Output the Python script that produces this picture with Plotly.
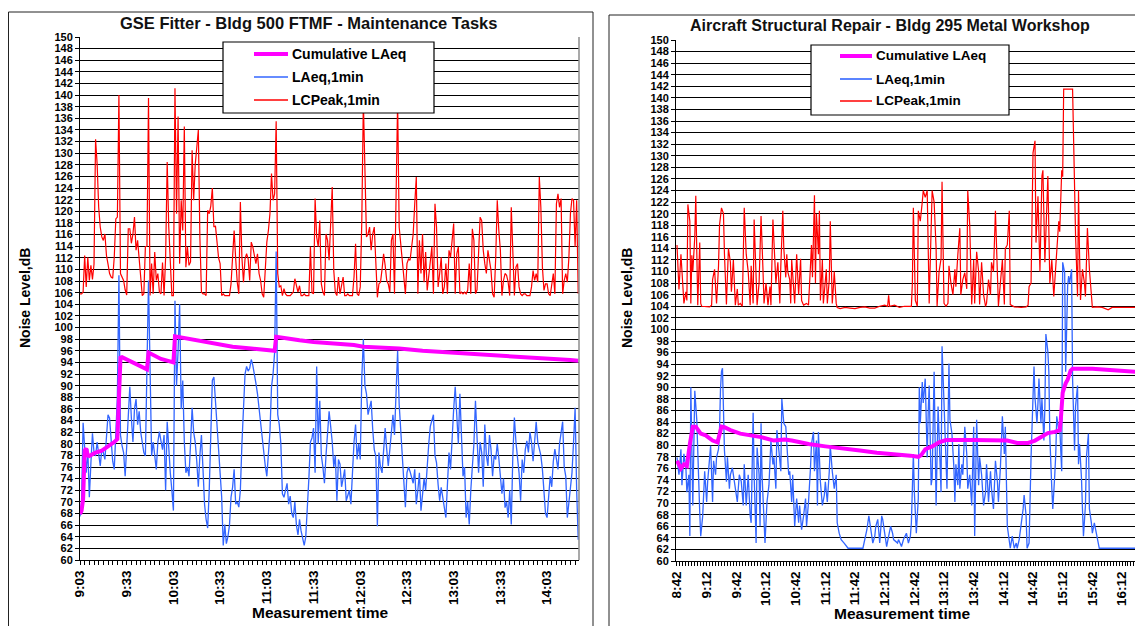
import plotly.graph_objects as go

# The page body has an 8 px margin, so the figure is drawn 8 px in from the
# top-left corner of the 1143x626 window; all pixel positions below are window pixels.
WIN_W, WIN_H = 1143, 626
OFF = 8
W, H = WIN_W - OFF, WIN_H - OFF
FONT = "Liberation Sans, Arial, sans-serif"

# ---------------- Left chart: GSE Fitter - Bldg 500 FTMF (one value per minute from 9:03) ----------------
gse_title = "GSE Fitter - Bldg 500 FTMF - Maintenance Tasks"
gse_tick_labels = ["9:03", "9:33", "10:03", "10:33", "11:03", "11:33", "12:03",
                   "12:33", "13:03", "13:33", "14:03"]
gse_lcpeak = [
    105.8, 105.8, 106.1, 112.4, 107.0, 112.1, 108.1, 110.7, 108.3, 110.9,
    132.4, 128.2, 120.7, 117.3, 115.6, 115.0, 116.1, 112.4, 110.9, 109.3,
    108.7, 108.5, 112.1, 118.7, 119.0, 140.0, 109.3, 108.5, 108.1, 106.5,
    105.6, 117.0, 117.0, 114.5, 116.1, 119.0, 113.3, 115.0, 112.0, 109.3,
    105.5, 105.8, 113.9, 114.0, 139.5, 105.5, 111.0, 105.8, 113.0, 108.1,
    109.3, 106.1, 105.8, 111.2, 105.5, 112.1, 128.5, 117.3, 110.0, 105.5,
    105.5, 141.2, 119.6, 136.3, 111.0, 121.9, 116.7, 134.6, 110.4, 113.9,
    110.7, 111.3, 130.5, 121.9, 128.0, 131.8, 134.0, 115.6, 106.1, 105.8,
    105.8, 105.5, 120.2, 119.6, 120.9, 124.0, 117.3, 117.5, 114.4, 112.0,
    111.0, 105.5, 105.8, 105.5, 105.5, 105.5, 105.5, 107.5, 113.3, 116.7,
    111.8, 107.8, 105.8, 121.6, 112.0, 107.8, 111.8, 112.7, 111.8, 108.1,
    114.7, 113.9, 112.4, 111.0, 112.7, 109.3, 108.1, 105.8, 105.2, 110.0,
    114.7, 116.7, 119.6, 126.5, 121.9, 123.0, 135.5, 109.3, 107.0, 107.2,
    105.5, 106.7, 105.8, 105.5, 105.5, 105.5, 105.8, 106.1, 108.4, 107.2,
    106.1, 107.2, 105.5, 105.5, 105.8, 105.5, 105.5, 105.5, 113.9, 106.0,
    105.8, 122.2, 115.6, 113.9, 118.4, 107.5, 106.1, 105.5, 116.1, 115.0,
    111.6, 118.4, 124.2, 109.8, 106.0, 105.5, 108.7, 105.8, 107.0, 108.7,
    105.5, 105.5, 105.8, 105.5, 105.5, 105.5, 108.7, 114.4, 105.8, 105.5,
    107.0, 118.4, 139.0, 128.2, 115.6, 116.1, 117.3, 113.3, 116.1, 117.3,
    110.1, 105.2, 107.5, 107.8, 110.0, 112.7, 110.7, 108.1, 107.5, 106.1,
    115.0, 116.1, 105.8, 124.2, 139.0, 117.3, 114.4, 112.1, 108.0, 105.8,
    111.0, 111.8, 111.6, 113.9, 116.1, 121.3, 125.9, 105.8, 115.0, 109.3,
    116.1, 107.8, 113.0, 106.4, 109.0, 111.6, 113.9, 105.8, 121.3, 117.3,
    107.0, 109.3, 112.1, 105.8, 107.0, 111.0, 105.8, 113.3, 112.1, 115.0,
    117.9, 105.8, 112.7, 113.9, 105.8, 106.1, 105.8, 106.1, 105.8, 106.4,
    111.0, 105.8, 117.0, 115.0, 105.8, 106.5, 112.7, 119.0, 118.4, 113.3,
    111.0, 109.3, 113.3, 111.0, 109.8, 105.8, 105.2, 112.0, 121.9, 116.7,
    113.3, 105.5, 108.1, 109.3, 109.0, 107.8, 105.5, 120.7, 112.7, 105.5,
    110.4, 111.0, 107.0, 105.8, 105.5, 105.8, 105.8, 105.5, 105.5, 105.5,
    107.0, 109.8, 108.1, 109.3, 107.8, 125.9, 120.7, 110.4, 106.4, 107.5,
    107.5, 105.8, 105.5, 107.8, 109.3, 105.8, 121.3, 123.0, 120.7, 122.2,
    105.8, 108.1, 109.3, 107.8, 112.0, 119.6, 122.2, 121.9, 113.9, 121.9,
    105.8,
]
gse_laeq = [
    67.5, 70.0, 83.6, 78.5, 75.0, 79.1, 70.8, 76.7, 81.8, 78.5,
    77.9, 80.3, 78.0, 76.2, 79.0, 78.5, 77.3, 81.5, 85.0, 84.4,
    80.3, 77.0, 75.6, 82.7, 88.0, 109.0, 81.5, 79.7, 78.5, 74.4,
    80.3, 84.0, 89.8, 84.4, 80.3, 86.0, 87.7, 83.3, 85.6, 82.0,
    80.3, 78.5, 77.9, 91.5, 108.1, 93.0, 77.9, 80.3, 77.3, 75.6,
    80.3, 82.1, 80.5, 79.0, 81.5, 72.0, 83.8, 78.0, 75.0, 72.0,
    68.5, 104.6, 90.0, 96.0, 104.0, 86.0, 90.9, 80.3, 75.0, 76.0,
    74.4, 80.0, 86.2, 82.0, 80.3, 77.0, 72.6, 78.0, 81.5, 75.6,
    69.6, 67.0, 65.5, 72.0, 84.0, 90.9, 91.5, 87.4, 83.3, 80.3,
    74.4, 70.8, 62.5, 66.1, 62.8, 64.0, 66.0, 70.8, 72.5, 75.6,
    69.6, 70.0, 69.1, 72.0, 80.0, 86.0, 92.0, 93.3, 92.5, 93.0,
    94.5, 93.5, 92.1, 90.4, 88.6, 86.2, 83.0, 80.3, 78.5, 76.2,
    74.4, 78.0, 82.0, 89.8, 92.0, 95.7, 113.1, 85.0, 83.3, 80.0,
    71.4, 70.8, 72.0, 73.2, 69.6, 71.0, 68.0, 67.3, 70.0, 66.0,
    64.3, 67.0, 65.0, 63.7, 62.5, 64.0, 68.5, 74.0, 80.3, 81.0,
    82.7, 75.0, 93.3, 80.0, 87.4, 78.0, 76.0, 73.2, 78.0, 82.0,
    85.6, 83.0, 80.3, 76.0, 78.0, 70.2, 77.3, 76.5, 72.6, 74.0,
    75.6, 70.2, 71.0, 72.0, 69.6, 76.0, 80.3, 83.3, 77.3, 80.0,
    77.3, 91.5, 98.0, 90.0, 88.6, 85.0, 86.0, 87.4, 82.5, 79.0,
    77.9, 65.8, 78.5, 76.0, 75.0, 80.0, 82.7, 79.0, 76.2, 79.0,
    82.0, 85.0, 81.5, 88.0, 96.0, 86.8, 82.0, 78.0, 72.6, 69.1,
    75.0, 76.0, 75.2, 74.4, 73.2, 75.6, 69.6, 72.0, 75.0, 68.5,
    71.4, 74.0, 72.0, 77.0, 80.0, 83.0, 84.0, 85.0, 78.0, 76.7,
    73.0, 70.2, 72.5, 71.0, 69.0, 67.3, 73.0, 78.5, 75.6, 82.0,
    86.0, 89.8, 84.0, 80.0, 88.6, 80.3, 74.4, 76.0, 67.3, 70.0,
    66.1, 72.0, 75.6, 80.0, 87.4, 80.0, 75.0, 80.3, 78.5, 72.6,
    83.3, 78.0, 76.2, 81.5, 79.0, 74.4, 78.0, 77.3, 80.0, 77.5,
    75.0, 71.4, 74.0, 69.0, 70.0, 67.3, 72.0, 66.1, 78.0, 84.5,
    80.3, 78.0, 75.0, 70.2, 77.3, 75.0, 79.0, 80.5, 78.5, 82.0,
    80.3, 77.0, 80.0, 83.8, 80.3, 79.0, 78.0, 75.6, 70.8, 68.0,
    67.3, 71.0, 74.4, 72.6, 77.0, 79.1, 77.3, 75.6, 80.0, 82.0,
    83.8, 76.0, 74.4, 67.3, 70.0, 72.0, 75.0, 80.3, 86.2, 72.0,
    63.5,
]
gse_cum_min = [0, 1, 2, 3, 4, 5, 6, 8, 10, 14, 18, 22, 24, 25, 26, 27, 32, 36, 40, 43,
               44, 48, 52, 56, 60, 61, 70, 77, 85, 98, 110, 118, 125, 126, 130, 141,
               150, 160, 176, 182, 190, 205, 220, 233, 245, 257, 270, 281, 295, 306,
               315, 320]
gse_cum_db = [67.9, 68.5, 70.5, 78.8, 79.2, 78.0, 77.9, 78.2, 78.5, 78.8, 79.5, 80.3,
              80.8, 88.6, 94.8, 94.9, 94.2, 93.6, 93.2, 92.8, 95.7, 95.1, 94.6, 94.3,
              94.0, 98.5, 98.1, 97.8, 97.3, 96.7, 96.4, 96.2, 96.0, 98.4, 98.2, 97.8,
              97.5, 97.3, 97.0, 96.7, 96.6, 96.4, 96.0, 95.8, 95.6, 95.4, 95.2, 95.0,
              94.8, 94.7, 94.4, 94.3]

# ---------------- Right chart: Aircraft Structural Repair (minutes from 8:42) ----------------
asr_title = "Aircraft Structural Repair - Bldg 295 Metal Workshop"
asr_tick_labels = ["8:42", "9:12", "9:42", "10:12", "10:42", "11:12", "11:42", "12:12",
                   "12:42", "13:12", "13:42", "14:12", "14:42", "15:12", "15:42", "16:12"]
asr_peak_min = [
    0, 1, 2, 4, 5, 7, 9, 10, 11, 13, 14, 15, 16, 18, 19, 20, 21, 23, 24, 25, 28, 33, 35,
    36, 38, 40, 42, 43, 45, 47, 48, 50, 52, 54, 55, 57, 59, 61, 62, 64, 66, 68, 70, 72,
    74, 75, 77, 78, 80, 81, 83, 85, 87, 88, 90, 92, 94, 95, 97, 98, 100, 102, 104, 105,
    107, 108, 110, 111, 112, 114, 115, 116, 118, 119, 121, 123, 125, 126, 128, 131, 133,
    135, 136, 137, 139, 140, 141, 143, 144, 145, 147, 148, 150, 151, 152, 154, 155, 157,
    158, 159, 161, 162, 165, 170, 175, 180, 185, 190, 195, 200, 205, 210, 213, 214, 215,
    220, 225, 230, 235, 237, 238, 239, 241, 243, 244, 246, 248, 249, 251, 253, 255, 256,
    258, 260, 262, 263, 265, 267, 268, 270, 272, 274, 275, 277, 279, 281, 282, 284, 286,
    287, 289, 291, 293, 294, 296, 298, 300, 301, 303, 305, 306, 308, 310, 312, 313, 315,
    317, 318, 320, 322, 324, 325, 327, 329, 331, 332, 334, 336, 337, 341, 348, 353, 355,
    356, 358, 360, 362, 363, 365, 367, 369, 370, 372, 374, 375, 377, 379, 381, 382, 384,
    386, 387, 389, 390, 391, 400, 401, 403, 405, 406, 407, 408, 410, 412, 413, 415, 417,
    419, 420, 425, 430, 436, 440, 450, 460, 470, 480]
asr_peak_db = [
    114.6, 109.0, 106.9, 113.0, 110.0, 104.5, 106.5, 105.0, 121.6, 118.7, 104.5, 112.8,
    110.0, 116.0, 123.1, 110.0, 104.2, 115.0, 104.5, 104.0, 104.0, 103.9, 104.2, 108.6,
    110.4, 104.5, 111.0, 118.0, 121.0, 120.0, 113.0, 104.3, 114.0, 111.6, 106.5, 112.0,
    104.2, 107.0, 104.2, 104.5, 104.0, 121.0, 113.0, 110.0, 104.2, 111.0, 104.5, 119.0,
    109.0, 104.2, 108.0, 119.6, 110.0, 104.5, 108.0, 104.2, 107.4, 104.2, 119.0, 115.0,
    108.0, 111.6, 104.5, 111.0, 120.5, 114.0, 109.0, 113.0, 110.0, 108.6, 104.5, 112.0,
    106.0, 104.5, 113.0, 106.0, 112.2, 105.0, 104.2, 104.5, 104.2, 112.8, 114.6, 109.0,
    123.2, 108.0, 120.0, 113.0, 120.5, 105.0, 112.0, 104.5, 108.0, 110.4, 104.5, 108.6,
    118.7, 104.5, 106.9, 110.0, 104.5, 103.8, 103.6, 103.8, 103.7, 103.6, 103.8, 103.9,
    103.7, 103.7, 104.0, 104.2, 104.0, 105.9, 104.0, 104.2, 103.8, 104.0, 104.0, 104.0,
    108.0, 121.0, 105.0, 104.0, 120.5, 118.7, 122.0, 124.0, 122.8, 124.0, 104.5, 110.0,
    124.0, 122.0, 114.0, 104.0, 110.0, 112.2, 125.5, 104.5, 104.0, 104.5, 111.0, 108.0,
    106.0, 110.4, 107.4, 113.0, 117.5, 106.0, 108.6, 109.8, 107.0, 124.0, 118.0, 104.3,
    112.0, 104.5, 113.4, 110.0, 104.3, 111.6, 106.0, 104.0, 104.5, 108.6, 106.0, 111.6,
    110.0, 120.5, 106.0, 104.0, 108.0, 112.0, 104.3, 114.0, 114.6, 120.5, 104.3, 103.9,
    103.8, 103.9, 104.2, 107.4, 108.0, 130.5, 132.6, 115.0, 123.0, 110.0, 126.5, 127.5,
    111.6, 121.0, 126.5, 108.0, 112.0, 105.7, 108.0, 112.8, 118.7, 116.9, 127.5, 126.4,
    141.5, 141.5, 131.1, 116.3, 105.7, 124.0, 113.4, 105.1, 110.4, 108.0, 105.7, 117.5,
    110.4, 105.1, 103.8, 103.9, 103.8, 103.4, 103.8, 103.8, 103.8, 103.8, 103.8]
asr_laeq_min = [
    0, 2, 4, 5, 7, 9, 10, 12, 13, 14, 16, 17, 18, 20, 21, 22, 23, 24, 26, 28, 30, 31, 33,
    34, 36, 37, 39, 40, 42, 43, 44, 45, 46, 47, 48, 50, 51, 53, 54, 56, 58, 60, 61, 63,
    65, 67, 68, 70, 72, 74, 75, 77, 78, 80, 81, 83, 84, 85, 86, 89, 91, 93, 95, 97, 98,
    100, 101, 103, 105, 106, 107, 108, 110, 112, 113, 114, 116, 117, 119, 121, 123, 124,
    126, 128, 130, 131, 133, 135, 136, 138, 139, 141, 142, 143, 145, 147, 149, 150, 152,
    154, 155, 157, 159, 161, 162, 164, 166, 169, 173, 188, 190, 192, 194, 196, 198, 200,
    201, 203, 205, 207, 208, 210, 212, 214, 216, 218, 219, 223, 224, 227, 229, 232, 234,
    236, 237, 239, 240, 242, 244, 245, 246, 248, 249, 251, 253, 254, 255, 257, 258, 260,
    261, 262, 264, 266, 267, 268, 270, 271, 273, 275, 276, 278, 280, 281, 282, 284, 285,
    286, 288, 289, 291, 293, 294, 296, 298, 300, 301, 303, 305, 306, 308, 310, 312, 313,
    315, 317, 318, 320, 322, 324, 325, 327, 329, 331, 332, 334, 336, 337, 339, 341, 343,
    344, 346, 348, 350, 351, 353, 354, 356, 358, 360, 361, 362, 364, 365, 366, 368, 369,
    371, 372, 373, 375, 376, 377, 379, 380, 382, 383, 384, 386, 387, 389, 390, 392, 393,
    395, 396, 397, 399, 400, 402, 403, 405, 406, 407, 409, 410, 411, 413, 414, 416, 417,
    419, 420, 422, 424, 425, 427, 440, 460, 480]
asr_laeq_db = [
    77.9, 74.9, 79.3, 73.1, 78.5, 76.1, 71.9, 74.9, 64.3, 90.0, 69.6, 79.1, 89.4, 84.4,
    77.9, 73.7, 68.4, 64.3, 67.8, 75.5, 70.2, 73.7, 77.3, 79.9, 70.2, 77.3, 74.9, 77.9,
    79.3, 82.6, 89.7, 92.7, 93.3, 88.0, 79.1, 73.7, 77.9, 72.5, 74.9, 76.1, 73.7, 71.9,
    70.2, 74.9, 73.7, 69.6, 76.7, 69.6, 74.9, 67.8, 66.6, 85.6, 74.9, 63.1, 79.6, 74.9,
    66.0, 83.8, 74.9, 63.1, 70.2, 73.1, 80.8, 76.7, 77.9, 72.5, 82.6, 79.1, 75.5, 88.0,
    85.0, 83.8, 83.2, 76.1, 74.9, 75.5, 70.2, 74.9, 66.0, 70.8, 66.6, 69.6, 65.4, 67.8,
    70.8, 66.0, 70.2, 76.1, 80.2, 82.3, 75.5, 80.8, 69.6, 82.3, 73.7, 69.6, 71.4, 73.7,
    70.2, 75.5, 79.9, 75.5, 72.5, 74.9, 66.6, 64.8, 63.7, 63.1, 62.2, 62.2, 63.7, 65.4,
    67.8, 65.4, 63.1, 64.3, 66.0, 67.2, 63.1, 67.8, 67.2, 64.8, 62.5, 64.3, 66.0, 64.8,
    63.7, 63.1, 63.7, 62.5, 63.7, 64.8, 63.1, 64.3, 66.6, 78.5, 71.9, 64.8, 70.8, 90.0,
    83.8, 90.9, 87.3, 91.5, 77.9, 85.6, 90.3, 73.1, 74.3, 92.7, 83.2, 69.6, 86.7, 76.7,
    71.9, 97.1, 86.2, 80.8, 72.5, 94.1, 84.4, 82.0, 76.1, 70.2, 76.7, 73.1, 80.2, 72.5,
    76.7, 74.9, 83.2, 78.5, 72.5, 74.9, 69.6, 83.2, 64.3, 84.4, 73.1, 77.9, 74.9, 69.6,
    71.9, 76.7, 70.2, 75.5, 72.5, 69.0, 77.3, 73.7, 70.2, 76.1, 85.0, 78.5, 83.2, 66.0,
    63.1, 62.2, 64.3, 62.2, 63.1, 62.2, 63.7, 66.0, 69.0, 71.4, 67.8, 62.2, 63.1, 77.9,
    86.7, 93.6, 88.2, 83.8, 87.3, 91.5, 83.8, 88.0, 80.8, 86.7, 99.2, 96.2, 92.7, 81.4,
    72.5, 69.0, 74.9, 78.5, 85.0, 82.6, 83.2, 75.5, 111.6, 109.8, 92.7, 107.5, 109.2,
    108.0, 110.4, 91.5, 79.1, 86.7, 90.3, 76.7, 80.2, 74.3, 69.0, 64.3, 69.6, 77.9, 82.0,
    69.0, 66.6, 64.8, 66.6, 64.8, 64.3, 62.2, 62.2, 62.2, 62.2]
asr_cum_min = [0, 2, 4, 7, 10, 13, 14, 16, 19, 21, 24, 29, 36, 41, 43, 45, 48, 54, 64,
               74, 85, 98, 109, 116, 133, 150, 168, 185, 202, 219, 236, 244, 247, 251,
               258, 265, 272, 300, 334, 344, 355, 362, 369, 375, 382, 387, 388, 390, 393,
               395, 398, 400, 420, 437, 455, 480]
asr_cum_db = [77.3, 76.5, 76.0, 76.7, 76.4, 80.2, 81.4, 83.2, 83.2, 82.8, 82.0, 81.7,
              80.8, 80.5, 82.3, 83.2, 83.1, 82.6, 82.0, 81.7, 81.4, 80.8, 81.0, 80.8,
              80.2, 79.8, 79.5, 79.1, 78.7, 78.5, 78.2, 78.0, 78.3, 79.3, 79.8, 80.5,
              80.9, 80.9, 80.8, 80.4, 80.4, 80.8, 81.4, 82.1, 82.3, 82.6, 84.2, 89.1,
              90.7, 91.3, 92.9, 93.2, 93.2, 93.0, 92.7, 92.5]

SERIES_NAMES = ["Cumulative LAeq", "LAeq,1min", "LCPeak,1min"]
SERIES_COLORS = ["#FF00FF", "#3366FF", "#FF0000"]
SERIES_WIDTHS = [4, 1.3, 1.2]


def px(x):
    """window pixel x -> paper fraction"""
    return (x - OFF) / W


def py(y):
    """window pixel y -> paper fraction"""
    return 1 - (y - OFF) / H


fig = go.Figure()

panels = [
    dict(xa="x", ya="y", peak_x=list(range(len(gse_lcpeak))), peak_y=gse_lcpeak,
         laeq_x=list(range(len(gse_laeq))), laeq_y=gse_laeq,
         cum_x=gse_cum_min, cum_y=gse_cum_db),
    dict(xa="x2", ya="y2", peak_x=asr_peak_min, peak_y=asr_peak_db,
         laeq_x=asr_laeq_min, laeq_y=asr_laeq_db,
         cum_x=asr_cum_min, cum_y=asr_cum_db),
]
for p in panels:
    fig.add_trace(go.Scatter(x=p["peak_x"], y=p["peak_y"], mode="lines", name=SERIES_NAMES[2],
                             line=dict(color=SERIES_COLORS[2], width=SERIES_WIDTHS[2]),
                             xaxis=p["xa"], yaxis=p["ya"], showlegend=False))
    fig.add_trace(go.Scatter(x=p["laeq_x"], y=p["laeq_y"], mode="lines", name=SERIES_NAMES[1],
                             line=dict(color=SERIES_COLORS[1], width=SERIES_WIDTHS[1]),
                             xaxis=p["xa"], yaxis=p["ya"], showlegend=False))
    fig.add_trace(go.Scatter(x=p["cum_x"], y=p["cum_y"], mode="lines", name=SERIES_NAMES[0],
                             line=dict(color=SERIES_COLORS[0], width=SERIES_WIDTHS[0]),
                             xaxis=p["xa"], yaxis=p["ya"], showlegend=False))

tick_font = dict(family=FONT, size=13.5, color="black", weight="bold")
ytick_font = dict(family=FONT, size=11, color="black", weight="bold")


def xaxis_cfg(domain, rng, labels):
    return dict(domain=domain, range=rng, showgrid=False, zeroline=False, showline=True,
                linecolor="black", linewidth=1, ticks="outside", ticklen=4, tickcolor="black",
                tickmode="array", tickvals=[30 * i for i in range(len(labels))],
                ticktext=labels, tickangle=-90, tickfont=tick_font, automargin=False,
                minor=dict(ticks="outside", ticklen=4, tickcolor="black", tickwidth=1.2,
                           tick0=0, dtick=3, showgrid=False),
                fixedrange=True)


def yaxis_cfg(domain, anchor):
    return dict(domain=domain, range=[60, 150], anchor=anchor, tickmode="linear", tick0=60,
                dtick=2, showgrid=True, gridcolor="black", gridwidth=1, zeroline=False,
                showline=True, linecolor="black", linewidth=1, ticks="outside", ticklen=4,
                tickcolor="black", tickfont=ytick_font, automargin=False, fixedrange=True)


fig.update_layout(
    width=W, height=H, autosize=False,
    margin=dict(l=0, r=0, t=0, b=0, pad=0),
    paper_bgcolor="white", plot_bgcolor="white",
    showlegend=False,
    xaxis=dict(anchor="y", **xaxis_cfg([px(80), px(579)], [0, 320.5], gse_tick_labels)),
    yaxis=yaxis_cfg([py(560), py(37)], "x"),
    xaxis2=dict(anchor="y2", **xaxis_cfg([px(676), 1.0], [-1, 471.2], asr_tick_labels)),
    yaxis2=yaxis_cfg([py(561), py(40)], "x2"),
)

shapes = []
ann = []
# panel frames
frame = dict(color="#222222", width=1)
shapes += [
    dict(type="line", xref="paper", yref="paper", x0=px(8.5), x1=px(8.5), y0=py(12), y1=-0.1, line=frame),
    dict(type="line", xref="paper", yref="paper", x0=px(8.5), x1=px(593), y0=py(12), y1=py(12), line=frame),
    dict(type="line", xref="paper", yref="paper", x0=px(593), x1=px(593), y0=py(12), y1=-0.1, line=frame),
    dict(type="line", xref="paper", yref="paper", x0=px(609), x1=px(609), y0=py(15), y1=-0.1, line=frame),
    dict(type="line", xref="paper", yref="paper", x0=px(609), x1=1.1, y0=py(15), y1=py(15), line=frame),
    # right border of the left plot area
    dict(type="line", xref="paper", yref="paper", x0=px(579), x1=px(579), y0=py(560), y1=py(37),
         line=dict(color="#8c8c8c", width=1.5)),
]

# legends (one per panel)
legends = [
    dict(box=(223, 42, 434, 113), line_x=(254, 288), text_x=290, rows=(54, 77, 100), size=14),
    dict(box=(811, 45, 1009, 115), line_x=(840, 872), text_x=874, rows=(56, 79, 101), size=13.5),
]
for lg in legends:
    x0, y0, x1, y1 = lg["box"]
    shapes.append(dict(type="rect", xref="paper", yref="paper", x0=px(x0), x1=px(x1),
                       y0=py(y1), y1=py(y0), line=dict(color="black", width=1.2),
                       fillcolor="white", layer="above"))
    for i, name in enumerate(SERIES_NAMES):
        yy = lg["rows"][i]
        shapes.append(dict(type="line", xref="paper", yref="paper", x0=px(lg["line_x"][0]),
                           x1=px(lg["line_x"][1]), y0=py(yy), y1=py(yy), layer="above",
                           line=dict(color=SERIES_COLORS[i], width=SERIES_WIDTHS[i] + (0 if i == 0 else 0.3))))
        ann.append(dict(x=px(lg["text_x"]), y=py(yy), xref="paper", yref="paper", text=name,
                        showarrow=False, xanchor="left", yanchor="middle",
                        font=dict(family=FONT, size=lg["size"], color="black", weight="bold")))

# titles
ann.append(dict(x=px(308), y=py(23), xref="paper", yref="paper", text=gse_title, showarrow=False,
                xanchor="center", yanchor="middle",
                font=dict(family=FONT, size=16.5, color="#111111", weight="bold")))
ann.append(dict(x=px(890), y=py(26), xref="paper", yref="paper", text=asr_title, showarrow=False,
                xanchor="center", yanchor="middle",
                font=dict(family=FONT, size=16, color="#111111", weight="bold")))
# axis titles
for xc in (25, 627):
    ann.append(dict(x=px(xc), y=py(298), xref="paper", yref="paper", text="Noise Level,dB",
                    showarrow=False, textangle=-90, xanchor="center", yanchor="middle",
                    font=dict(family=FONT, size=14, color="black", weight="bold")))
for xc, yc in ((320, 612), (902, 613)):
    ann.append(dict(x=px(xc), y=py(yc), xref="paper", yref="paper", text="Measurement time",
                    showarrow=False, xanchor="center", yanchor="middle",
                    font=dict(family=FONT, size=15.5, color="black", weight="bold")))

fig.update_layout(shapes=shapes, annotations=ann)
fig.write_html("out.html")
